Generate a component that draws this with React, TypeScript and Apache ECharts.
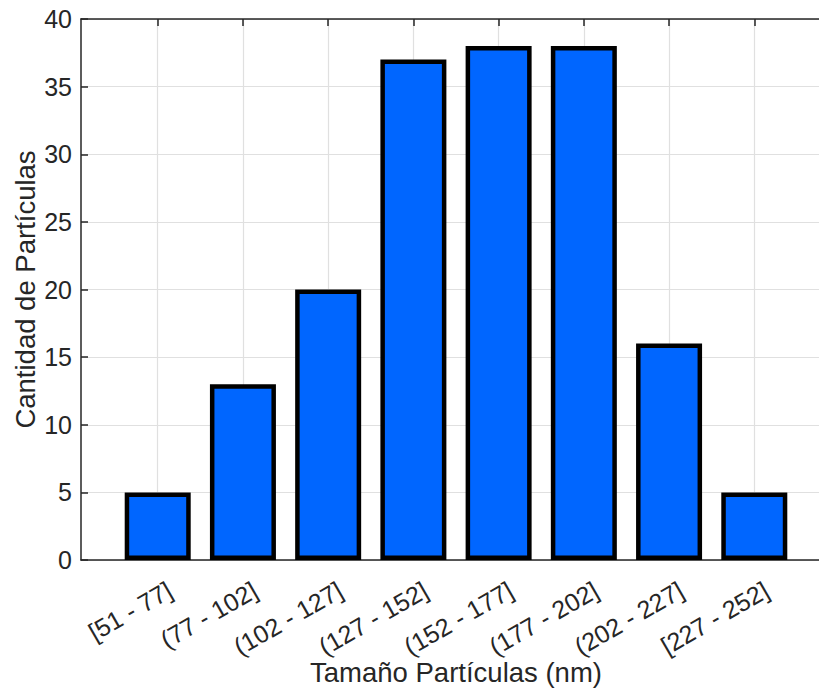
import React, { useEffect, useRef } from "react";
import * as echarts from "echarts";

const categories = [
  "[51 - 77]",
  "(77 - 102]",
  "(102 - 127]",
  "(127 - 152]",
  "(152 - 177]",
  "(177 - 202]",
  "(202 - 227]",
  "[227 - 252]",
];
const counts = [5, 13, 20, 37, 38, 38, 16, 5];
const positions = [1, 2, 3, 4, 5, 6, 7, 8];
const yTicks = [0, 5, 10, 15, 20, 25, 30, 35, 40];

const FONT = "Liberation Sans, Arial, Helvetica, sans-serif";
const AXIS_COLOR = "#262626";

export default function App() {
  const ref = useRef<HTMLDivElement>(null);
  useEffect(() => {
    document.body.style.margin = "0";
    const chart = echarts.init(ref.current!, null, { renderer: "svg" });
    const barData = positions.map((p, i) => [p, counts[i]]);
    chart.setOption({
      animation: false,
      backgroundColor: "#ffffff",
      textStyle: { fontFamily: FONT },
      grid: {
        left: 81,
        top: 19,
        right: -12,
        bottom: 132,
        containLabel: false,
        outerBoundsMode: "none",
      },
      xAxis: [
        {
          type: "value",
          min: 0.1,
          max: 8.9,
          position: "bottom",
          name: "Tamaño Partículas (nm)",
          nameLocation: "middle",
          nameGap: 98,
          nameMoveOverlap: false,
          nameTextStyle: { fontSize: 27.5, color: AXIS_COLOR, fontFamily: FONT },
          axisLine: { show: true, onZero: false, lineStyle: { color: AXIS_COLOR, width: 1.5 } },
          axisTick: {
            show: true,
            inside: true,
            length: 7,
            customValues: positions,
            lineStyle: { color: AXIS_COLOR, width: 1.5 },
          },
          axisLabel: {
            show: true,
            customValues: positions,
            rotate: 30,
            fontSize: 25,
            color: AXIS_COLOR,
            margin: 35,
            padding: [0, -14, 0, 0],
            fontFamily: FONT,
            formatter: (v: number) => {
              const idx = positions.indexOf(Math.round(v));
              return idx >= 0 ? categories[idx] : "";
            },
          },
          splitLine: { show: true, lineStyle: { color: "#e0e0e0", width: 1.2 } },
        },
        {
          type: "value",
          min: 0.1,
          max: 8.9,
          position: "top",
          axisLine: { show: true, onZero: false, lineStyle: { color: AXIS_COLOR, width: 1.5 } },
          axisTick: {
            show: true,
            inside: true,
            length: 7,
            customValues: positions,
            lineStyle: { color: AXIS_COLOR, width: 1.5 },
          },
          axisLabel: { show: false },
          splitLine: { show: false },
        },
      ],
      yAxis: {
        type: "value",
        min: 0,
        max: 40,
        interval: 5,
        name: "Cantidad de Partículas",
        nameLocation: "middle",
        nameGap: 42,
        nameMoveOverlap: false,
        nameTextStyle: { fontSize: 27.5, color: AXIS_COLOR, fontFamily: FONT },
        axisLine: { show: true, lineStyle: { color: AXIS_COLOR, width: 1.5 } },
        axisTick: { show: true, inside: true, length: 7, lineStyle: { color: AXIS_COLOR, width: 1.5 } },
        axisLabel: {
          fontSize: 25,
          color: AXIS_COLOR,
          margin: 9,
          fontFamily: FONT,
          customValues: yTicks,
        },
        splitLine: { show: true, lineStyle: { color: "#e0e0e0", width: 1.2 } },
      },
      series: [
        {
          type: "bar",
          xAxisIndex: 0,
          data: barData,
          barWidth: 66,
          z: 3,
          itemStyle: {
            color: "#0066ff",
            borderColor: "#000000",
            borderWidth: 4.5,
          },
        },
      ],
    });
    return () => chart.dispose();
  }, []);
  return (
    <div
      ref={ref}
      style={{ width: 819, height: 692, position: "absolute", left: 0, top: 0 }}
    />
  );
}
